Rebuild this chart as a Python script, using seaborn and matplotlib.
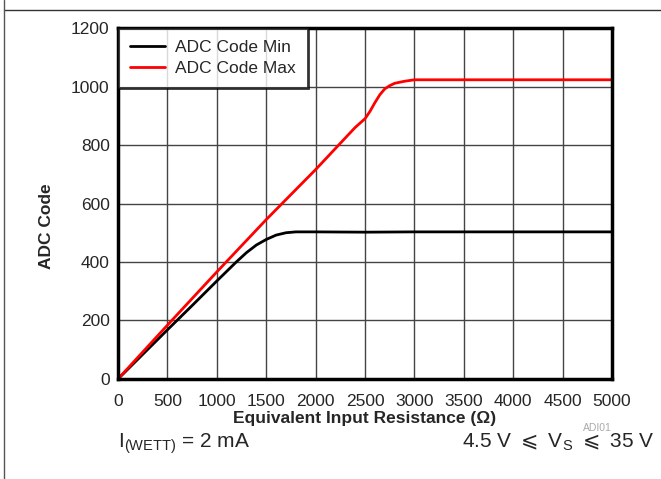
import matplotlib
matplotlib.use("Agg")
import matplotlib.pyplot as plt
import seaborn as sns
import pandas as pd
from matplotlib.lines import Line2D

# values
res_min = [0, 250, 500, 750, 1000, 1200, 1300, 1400, 1500, 1600, 1700, 1800,
           2000, 2500, 3000, 3500, 4000, 4500, 5000]
code_min = [0, 84, 168, 251, 335, 401, 432, 458, 477, 492, 500, 503,
            503, 502, 503, 503, 503, 503, 503]

res_max = [0, 250, 500, 1000, 1500, 2000, 2250, 2400, 2500, 2550, 2600, 2650,
           2700, 2750, 2800, 2900, 3000, 3500, 4000, 4500, 5000]
code_max = [0, 92, 184, 366, 545, 716, 806, 860, 890, 915, 945, 972,
            992, 1003, 1011, 1018, 1023, 1023, 1023, 1023, 1023]

series_names = ["ADC Code Min", "ADC Code Max"]
x_ticks = [0, 500, 1000, 1500, 2000, 2500, 3000, 3500, 4000, 4500, 5000]
y_ticks = [0, 200, 400, 600, 800, 1000, 1200]

df = pd.concat([
    pd.DataFrame({"res": res_min, "code": code_min, "series": series_names[0]}),
    pd.DataFrame({"res": res_max, "code": code_max, "series": series_names[1]}),
])

sns.set_style("white")
plt.rcParams["font.family"] = ["Liberation Sans", "DejaVu Sans"]

fig = plt.figure(figsize=(6.61, 4.79), dpi=100)
ax = fig.add_axes([0.1785, 0.2088, 0.7475, 0.7327])

sns.lineplot(data=df, x="res", y="code", hue="series", hue_order=series_names,
             palette={series_names[0]: "black", series_names[1]: "#ff0000"},
             linewidth=2, ax=ax, sort=False)

ax.set_xlim(0, 5000)
ax.set_ylim(0, 1200)
ax.set_xticks(x_ticks)
ax.set_yticks(y_ticks)
ax.tick_params(labelsize=12.5, length=0, pad=6)
ax.tick_params(axis="x", pad=11)
ax.grid(True, color="#444444", linewidth=1)
ax.set_axisbelow(True)
for s in ax.spines.values():
    s.set_linewidth(2.5)
    s.set_color("black")

ax.set_xlabel("Equivalent Input Resistance (Ω)", fontsize=12.5, fontweight="bold", labelpad=1)
ax.set_ylabel("ADC Code", fontsize=12.5, fontweight="bold")
ax.yaxis.set_label_coords(-0.13, 0.435)

leg = ax.legend(loc="upper left", fontsize=12.5, frameon=True, fancybox=False,
                borderaxespad=0, handlelength=2.0, handletextpad=0.6,
                borderpad=0.7, labelspacing=0.3)
leg.get_frame().set_edgecolor("black")
leg.get_frame().set_linewidth(2)

# page frame
fig.add_artist(Line2D([0.006, 1], [0.98, 0.98], color="#333333", lw=1))
fig.add_artist(Line2D([0.006, 0.006], [0, 1], color="#555555", lw=1))

fig.text(0.925, 0.1, "ADI01", fontsize=7.5, color="#aaaaaa", ha="right")
fig.text(0.178, 0.065, r"I$_{\mathregular{(WETT)}}$ = 2 mA", fontsize=15)
fig.text(0.99, 0.065, r"4.5 V $\leqslant$ V$_{\mathregular{S}}$ $\leqslant$ 35 V",
         fontsize=15, ha="right")

fig.savefig("out.png", dpi=100)
